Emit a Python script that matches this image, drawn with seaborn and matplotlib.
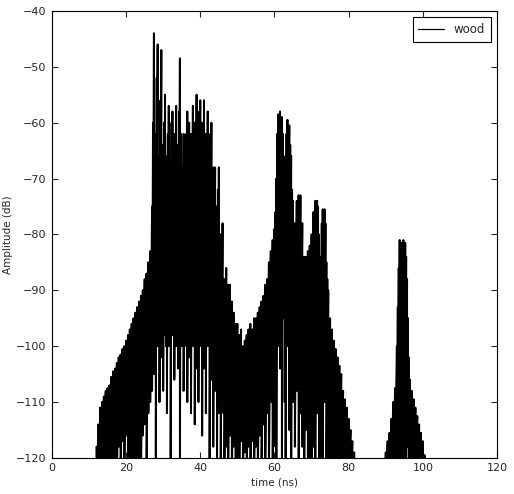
import seaborn as sns
import matplotlib.pyplot as plt
import pandas as pd

# sample times (ns); finer spacing where the trace is busiest
time_ns = [12.0, 12.5, 13.0, 13.5, 14.0, 14.5, 15.0, 15.5, 16.0, 16.5, 17.0, 17.5,
           18.0, 18.5, 19.0, 19.5, 20.0, 20.5, 21.0, 21.5, 22.0, 22.5, 23.0, 23.5,
           24.0, 24.5, 25.0, 25.5, 26.0, 26.5,
           27.0, 27.25, 27.5, 27.75, 28.0, 28.25, 28.5, 28.75, 29.0, 29.25, 29.5, 29.75,
           30.0, 30.25, 30.5, 30.75, 31.0, 31.25, 31.5, 31.75, 32.0, 32.25, 32.5, 32.75,
           33.0, 33.25, 33.5, 33.75, 34.0, 34.25, 34.5, 34.75, 35.0, 35.25, 35.5, 35.75,
           36.0, 36.25, 36.5, 36.75, 37.0, 37.25, 37.5, 37.75, 38.0, 38.25, 38.5, 38.75,
           39.0, 39.25, 39.5, 39.75, 40.0, 40.25, 40.5, 40.75, 41.0, 41.25, 41.5, 41.75,
           42.0, 42.25, 42.5, 42.75, 43.0, 43.25, 43.5, 43.75, 44.0, 44.25, 44.5, 44.75,
           45.0, 45.25, 45.5, 45.75, 46.0, 46.25, 46.5, 46.75, 47.0,
           47.5, 48.0, 48.5, 49.0, 49.5, 50.0, 50.5, 51.0, 51.5, 52.0, 52.5, 53.0,
           53.5, 54.0, 54.5, 55.0, 55.5, 56.0, 56.5, 57.0, 57.5, 58.0, 58.5, 59.0, 59.5,
           60.0, 60.25, 60.5, 60.75, 61.0, 61.25, 61.5, 61.75, 62.0, 62.25, 62.5, 62.75,
           63.0, 63.25, 63.5, 63.75, 64.0, 64.25, 64.5, 64.75, 65.0,
           65.5, 66.0, 66.5, 67.0, 67.5, 68.0, 68.5, 69.0, 69.5, 70.0,
           70.5, 70.75, 71.0, 71.25, 71.5, 71.75, 72.0, 72.25, 72.5, 72.75, 73.0, 73.25,
           73.5, 73.75, 74.0, 74.25, 74.5,
           75.0, 75.5, 76.0, 76.5, 77.0, 77.5, 78.0, 78.5, 79.0, 79.5, 80.0, 80.5,
           81.0, 81.5, 82.0,
           89.5, 90.0, 90.5, 91.0, 91.5, 92.0, 92.5,
           93.0, 93.25, 93.5, 93.75, 94.0, 94.25, 94.5, 94.75, 95.0, 95.25, 95.5, 95.75,
           96.0, 96.25, 96.5,
           97.0, 97.5, 98.0, 98.5, 99.0, 99.5, 100.0, 100.5, 101.0]

# top of each oscillation (dB)
peak_db = [-118, -114, -111, -110, -109, -108, -107.5, -107, -105.5, -104.5, -104, -103,
           -102, -101.5, -100.5, -100, -99, -98, -97, -96, -95, -94, -93, -92,
           -91, -90, -88, -87, -85, -83,
           -75, -60, -44, -62, -75, -52, -46, -66, -72, -56, -47, -64,
           -70, -60, -55, -68, -66, -62, -57, -70, -68, -60, -58, -66,
           -62, -70, -57, -64, -66, -58, -48.5, -62, -68, -72, -62, -70,
           -66, -62, -58, -68, -60, -72, -62, -66, -57, -64, -60, -70,
           -55, -62, -65, -58, -56, -66, -60, -64, -56, -68, -62, -66,
           -58, -70, -66, -62, -60, -72, -68, -74, -68, -78, -75, -72,
           -68, -82, -80, -86, -78, -90, -88, -92, -86,
           -89, -89, -92, -94, -96, -96, -98, -97, -100, -99, -98, -97,
           -96, -97, -95, -95, -94, -93, -92, -91, -89, -88, -85, -83, -81,
           -79, -76, -70, -62, -58.5, -60, -58, -59, -59, -62, -66, -72,
           -75, -62, -59.5, -61, -60.5, -64, -66, -72, -74,
           -78, -74, -73, -73, -78, -84, -84, -83, -82, -80,
           -76, -80, -74, -76, -74, -75, -80, -86, -84, -78, -75.5, -76,
           -75.5, -78, -85, -88, -90,
           -95, -97, -99, -100.5, -102, -103.5, -105, -108, -109.5, -111, -113, -115,
           -117, -119, -125,
           -125, -119, -117, -115.5, -113, -110, -107.5,
           -100, -93, -86, -81, -82, -81.5, -83, -81, -82, -81.5, -84, -88,
           -95, -102, -106,
           -108, -109.5, -111, -112.5, -114, -115.5, -117, -119.5, -130]

# bottom of each oscillation (dB), below -120 means off the axis
trough_db = [-130, -130, -125, -125, -125, -125, -125, -125, -125, -125, -125, -125,
             -118, -125, -117, -125, -116, -125, -125, -125, -125, -125, -125, -125,
             -125, -116, -114, -125, -112, -110,
             -108, -100, -105, -96, -125, -98, -100, -95, -110, -97, -102, -94,
             -108, -96, -98, -100, -112, -95, -100, -97, -125, -94, -98, -96,
             -106, -95, -100, -97, -104, -96, -125, -98, -100, -96, -108, -97,
             -98, -100, -110, -96, -102, -98, -112, -95, -100, -97, -114, -96,
             -104, -98, -110, -97, -98, -100, -116, -96, -104, -98, -112, -97,
             -100, -99, -125, -98, -106, -100, -118, -100, -108, -102, -125, -104,
             -112, -106, -125, -108, -110, -112, -125, -114, -118,
             -125, -116, -125, -118, -125, -120, -125, -117, -125, -119, -125, -118,
             -125, -117, -125, -118, -125, -116, -125, -114, -125, -112, -125, -110, -125,
             -108, -118, -125, -90, -100, -78, -104, -76, -125, -80, -95, -110,
             -120, -100, -100, -80, -115, -90, -125, -105, -110,
             -118, -108, -125, -112, -118, -125, -115, -125, -125, -125,
             -118, -100, -125, -95, -112, -98, -125, -105, -120, -100, -125, -98,
             -110, -104, -125, -110, -125,
             -125, -125, -125, -125, -125, -125, -125, -125, -125, -125, -125, -125,
             -125, -130, -130,
             -130, -130, -125, -125, -125, -125, -125,
             -125, -120, -118, -125, -112, -125, -112, -125, -118, -125, -125, -118,
             -118, -125, -125,
             -125, -125, -125, -125, -125, -125, -125, -130, -130]

# alternate peak/trough at each sample so the trace oscillates like the measured one
xs, ys = [], []
for t, hi, lo in zip(time_ns, peak_db, trough_db):
    xs += [t, t]
    ys += [hi, lo]
data = pd.DataFrame({'time (ns)': xs, 'Amplitude (dB)': ys})

sns.set_style('ticks')
plt.rcParams.update({
    'font.family': ['DejaVu Sans'],
    'xtick.direction': 'in',
    'ytick.direction': 'in',
    'xtick.top': True,
    'ytick.right': True,
    'xtick.major.size': 4,
    'ytick.major.size': 4,
    'axes.edgecolor': 'black',
    'axes.linewidth': 0.8,
})

fig = plt.figure(figsize=(5.14, 4.94), dpi=100)
ax = fig.add_axes([0.101, 0.073, 0.866, 0.905])
sns.lineplot(data=data, x='time (ns)', y='Amplitude (dB)', color='black',
             linewidth=1.4, sort=False, estimator=None, label='wood', ax=ax)
ax.set_xlim(0, 120)
ax.set_ylim(-120, -40)
ax.set_xticks(range(0, 121, 20))
ax.set_yticks(range(-120, -39, 10))
ax.tick_params(labelsize=8, pad=4)
ax.set_xlabel('time (ns)', fontsize=7.5, labelpad=3)
ax.set_ylabel('Amplitude (dB)', fontsize=7.5, labelpad=2)
leg = ax.legend(loc='upper right', fancybox=False, framealpha=1, fontsize=8.5,
                handlelength=2.2, borderpad=0.5)
leg.get_lines()[0].set_linewidth(0.9)
leg.get_frame().set_edgecolor('black')
leg.get_frame().set_linewidth(0.8)
fig.savefig('out.png', dpi=100)
